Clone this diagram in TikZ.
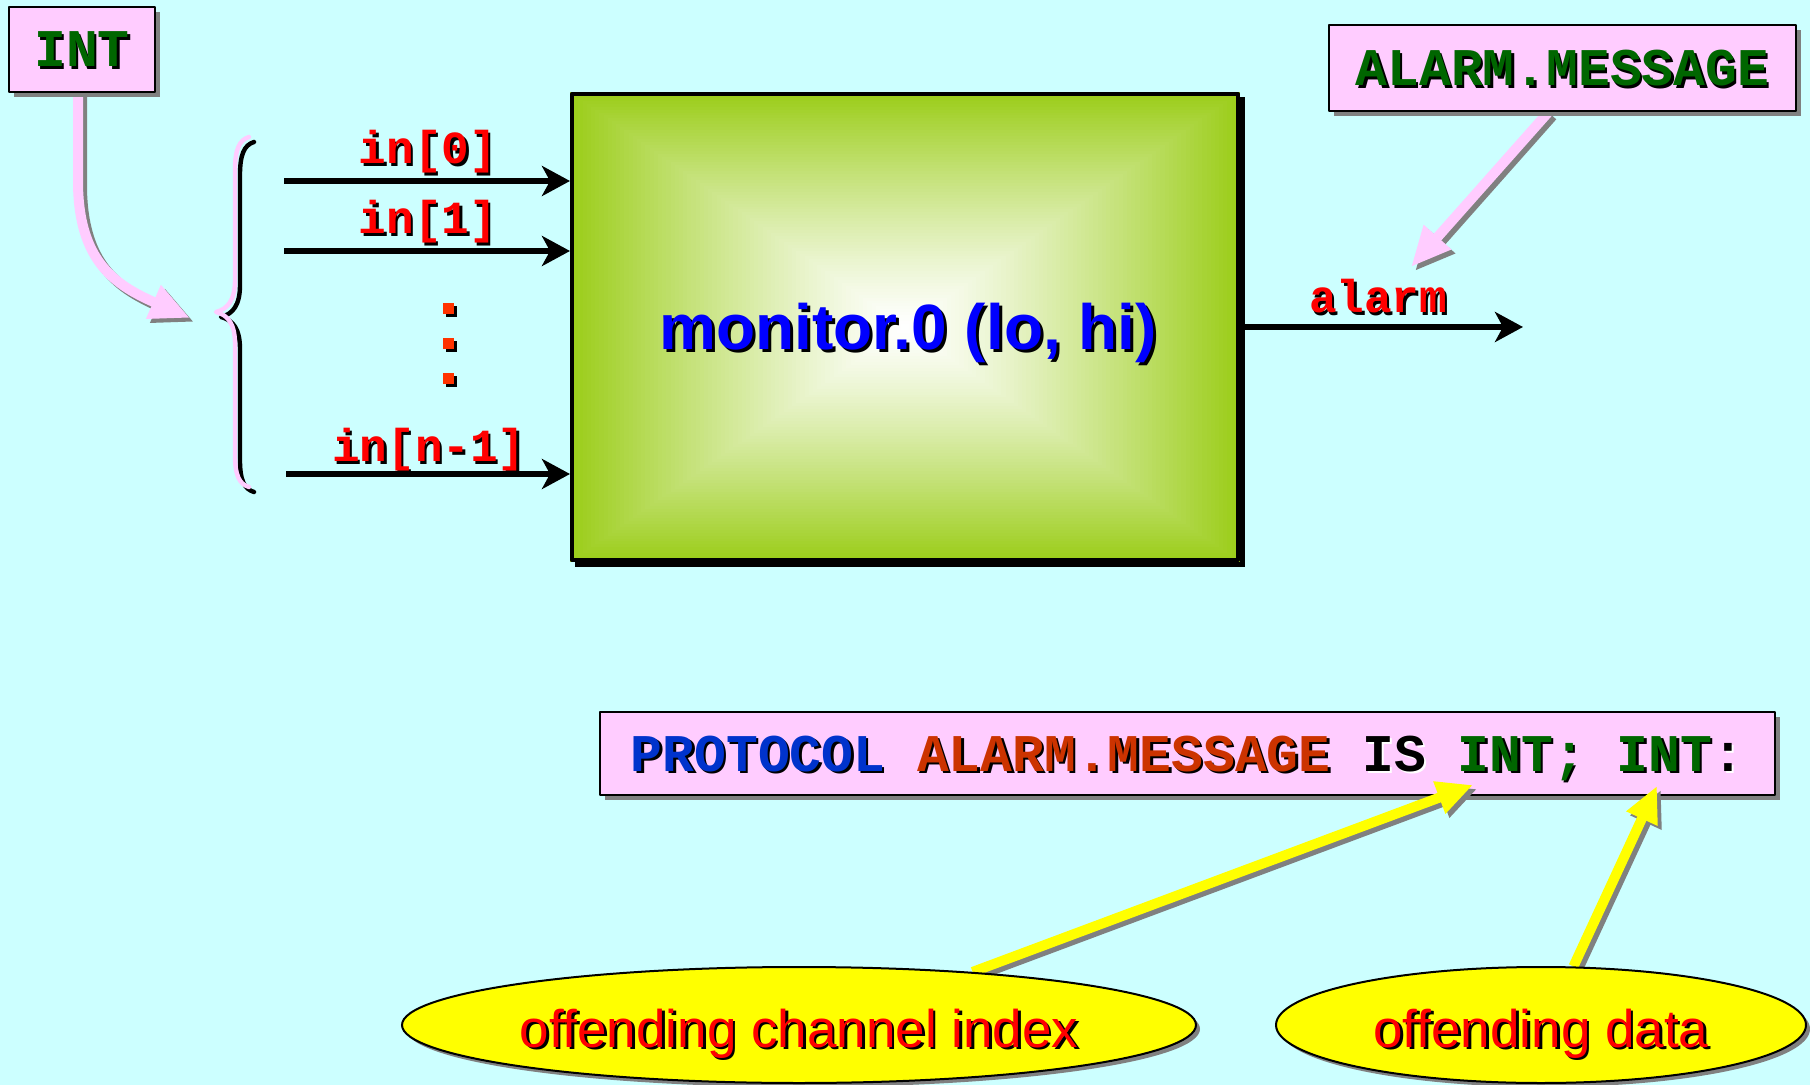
\documentclass[tikz,border=0pt]{standalone}
\usepackage{fontspec}
\setmainfont{Liberation Sans}
\newfontfamily\codefont{Liberation Mono}
\usetikzlibrary{arrows.meta,shapes.geometric,shadows}
\pgfdeclarelayer{under}
\pgfdeclarelayer{top}
\pgfsetlayers{under,main,top}

\definecolor{bgcyan}{RGB}{204,255,255}
\definecolor{boxpink}{RGB}{255,204,255}
\definecolor{shadowgray}{RGB}{128,128,128}
\definecolor{codegreen}{RGB}{0,102,0}
\definecolor{labelred}{RGB}{255,0,0}
\definecolor{dotred}{RGB}{255,51,0}
\definecolor{monblue}{RGB}{0,0,255}
\definecolor{kwblue}{RGB}{0,51,204}
\definecolor{namered}{RGB}{204,51,0}
\definecolor{boxgreen}{RGB}{155,205,25}
\definecolor{calloutyellow}{RGB}{255,255,0}

% text with a hard drop shadow: [offset]{text colour}{shadow colour}{text}
\newcommand\shtext[4][1.2pt]{\rlap{\kern#1\raisebox{-#1}{\color{#3}#4}}{\color{#2}#4}}

\begin{document}
\begin{tikzpicture}[x=0.5pt,y=-0.5pt,line join=round,
  tagbox/.style={rectangle, draw=black, line width=1pt, fill=boxpink, inner sep=0pt,
    text depth=0pt, font=\codefont\bfseries\fontsize{26.5}{32}\selectfont,
    general shadow={fill=shadowgray, shadow xshift=2.5pt, shadow yshift=-2.5pt}},
  codelabel/.style={anchor=base, inner sep=0pt, font=\codefont\bfseries\fontsize{23}{28}\selectfont},
  inarrow/.style={draw=black, line width=2.6pt, -{Stealth[length=14pt,width=15pt,inset=4pt]}},
  fatarrow/.style={line width=5pt, -{Triangle[length=20pt,width=17pt]}},
  yarrow/.style={line width=5pt, -{Triangle[length=18pt,width=16pt]}},
  dropped/.style={draw=shadowgray, transform canvas={shift={(2pt,-2pt)}}},
  callout/.style={ellipse, draw=black, line width=1pt, fill=calloutyellow, inner sep=0pt,
    minimum height=58pt, general shadow={fill=shadowgray, shadow xshift=2pt, shadow yshift=-2pt}},
  callouttext/.style={anchor=base, inner sep=0pt, font=\fontsize{26.5}{32}\selectfont}
]
\begin{pgfonlayer}{under}
  \fill[bgcyan] (0,0) rectangle (1810,1085);
\end{pgfonlayer}
\useasboundingbox (0,0) rectangle (1810,1085);

% monitor process: black drop shadow, rectangular gradient, frame
\fill[black] (575,97) rectangle (1245,567);
\foreach \i in {0,...,79}{
  \pgfmathsetmacro\s{1-\i/80}
  \pgfmathsetmacro\p{100*\s^1.25}
  \pgfmathsetmacro\hw{335*\s}
  \pgfmathsetmacro\hh{235*\s}
  \fill[boxgreen!\p!white] (905-\hw,327-\hh) rectangle (905+\hw,327+\hh);
}
\node[draw=black, line width=2pt, minimum width=333pt, minimum height=233pt, inner sep=0pt] (mon) at (905,327) {};
\node[anchor=base, inner sep=0pt, font=\bfseries\fontsize{32}{38}\selectfont] (montext) at (908,350)
  {\shtext[1.5pt]{monblue}{black}{monitor.0 (lo, hi)}};

% type tags
\node[tagbox, minimum width=73pt, minimum height=42.5pt] (intb) at (82,49.5) {\shtext{codegreen}{black}{INT}};
\node[tagbox, minimum width=233.5pt, minimum height=43pt] (am) at (1562.5,68) {\shtext{codegreen}{black}{ALARM.MESSAGE}};
\node[tagbox, minimum width=587.5pt, minimum height=41.5pt] (proto) at (1187.5,753.5)
  {\shtext{kwblue}{black}{PROTOCOL} \shtext{namered}{black}{ALARM.MESSAGE} \shtext{black}{white}{IS} \shtext{codegreen}{black}{INT;} \shtext{codegreen}{black}{INT}\shtext{black}{white}{:}};

% input channels
\coordinate (s0) at (284,181);
\coordinate (s1) at (284,251);
\coordinate (s2) at (286,474);
\draw[inarrow] (s0) -- (s0 -| mon.west);
\draw[inarrow] (s1) -- (s1 -| mon.west);
\draw[inarrow] (s2) -- (s2 -| mon.west);
\node[codelabel] (l0) at (428,164) {\shtext{labelred}{black}{in[0]}};
\node[codelabel] (l1) at (428,234) {\shtext{labelred}{black}{in[1]}};
\node[codelabel] (l2) at (429,462) {\shtext{labelred}{black}{in[n-1]}};
\foreach \y in {309,344,379}{
  \fill[black] (446,\y-3) rectangle ++(11,11);
  \fill[dotred] (443,\y-6) rectangle ++(11,11);
}

% output channel
\coordinate (aend) at (1523,327);
\draw[inarrow] (mon.east) -- (aend);
\node[codelabel] (alab) at (1378,313) {\shtext{labelred}{black}{alarm}};

% brace grouping the inputs
\foreach \c/\d in {black/2.5pt, boxpink/0pt}{
  \draw[\c, line width=2.2pt, line cap=round, transform canvas={shift={(\d,-\d)}}]
    (249,137) .. controls (239,140) and (235,150) .. (235,170) -- (235,280)
    .. controls (235,300) and (228,309) .. (216,312)
    .. controls (228,315) and (235,324) .. (235,344) -- (235,455)
    .. controls (235,475) and (239,484) .. (249,487);
}

% pink pointers from the type tags
\coordinate (intin) at (190,318);
\coordinate (atip) at (1411,267);
\begin{pgfonlayer}{under}
  \draw[fatarrow, dropped] ([xshift=-2pt]intb.south) -- ++(0,88) .. controls +(0,80) and (115,285) .. (intin);
  \draw[fatarrow, draw=boxpink] ([xshift=-2pt]intb.south) -- ++(0,88) .. controls +(0,80) and (115,285) .. (intin);
  \draw[fatarrow, dropped] ([xshift=-7pt]am.south) -- (atip);
  \draw[fatarrow, draw=boxpink] ([xshift=-7pt]am.south) -- (atip);
\end{pgfonlayer}

% callouts
\begin{pgfonlayer}{top}
  \node[callout, minimum width=397pt] (e1) at (799,1025) {};
  \node[callout, minimum width=265pt] (e2) at (1541,1025) {};
  \node[callouttext] (c1) at (799,1047) {\shtext[1.3pt]{labelred}{black}{offending channel index}};
  \node[callouttext] (c2) at (1541,1047) {\shtext[1.3pt]{labelred}{black}{offending data}};
\end{pgfonlayer}
\coordinate (t1) at (1473,785);
\coordinate (t2) at (1657,786);
\draw[yarrow, dropped] (e1.17) -- (t1);
\draw[yarrow, draw=calloutyellow] (e1.17) -- (t1);
\draw[yarrow, dropped] (e2.61) -- (t2);
\draw[yarrow, draw=calloutyellow] (e2.61) -- (t2);
\end{tikzpicture}
\end{document}
